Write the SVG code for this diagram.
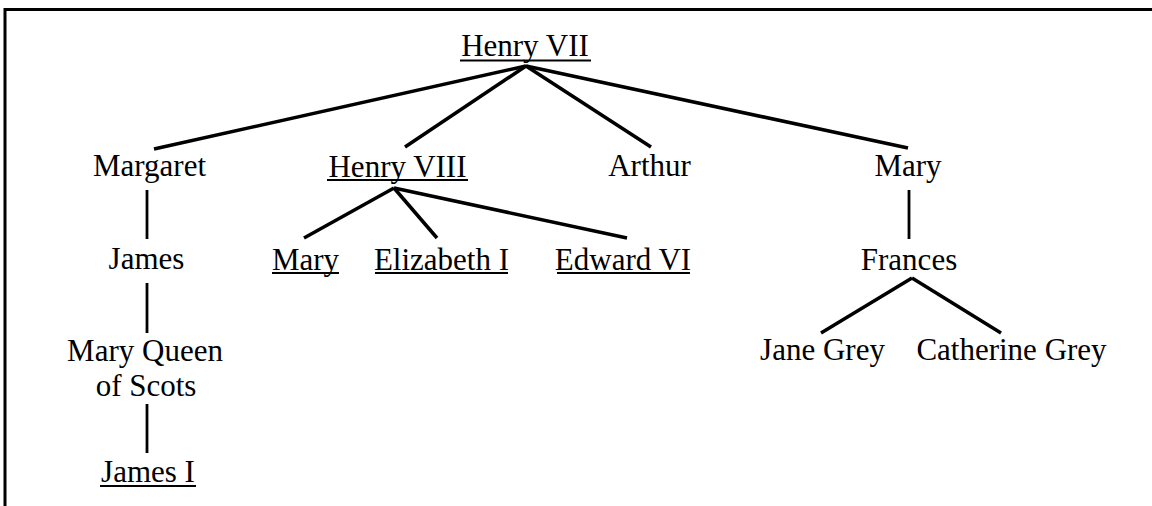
<svg xmlns="http://www.w3.org/2000/svg" width="1152" height="506" viewBox="0 0 1152 506">
<style>
text{font-family:"Liberation Serif","Times New Roman",serif;font-size:31px;fill:#000;text-anchor:middle}
.c line{stroke:#000;stroke-width:3.5;stroke-linecap:butt}
.c line.v{stroke-width:2.8}
.u{stroke:#000;stroke-width:2}
</style>
<rect width="1152" height="506" fill="#fff"/>
<path d="M5 506 V9.5 H1152" fill="none" stroke="#000" stroke-width="3"/>
<g class="c" id="connectors">
<line x1="526" y1="66" x2="154" y2="149"/>
<line x1="526" y1="66" x2="405" y2="147"/>
<line x1="526" y1="66" x2="651" y2="147"/>
<line x1="526" y1="66" x2="908" y2="148"/>
<line class="v" x1="147" y1="190" x2="147" y2="239"/>
<line class="v" x1="147" y1="283" x2="147" y2="333"/>
<line class="v" x1="147" y1="404" x2="147" y2="453"/>
<line x1="394" y1="188" x2="304" y2="238"/>
<line x1="394" y1="188" x2="437" y2="238"/>
<line x1="394" y1="188" x2="627" y2="238"/>
<line class="v" x1="909" y1="190" x2="909" y2="239"/>
<line x1="912" y1="278" x2="821" y2="333"/>
<line x1="912" y1="278" x2="1001" y2="333"/>
</g>
<g id="henry7"><text x="525" y="56">Henry VII</text><line class="u" x1="460" y1="60.5" x2="591" y2="60.5"/></g>
<g id="margaret"><text x="149.5" y="176">Margaret</text></g>
<g id="henry8"><text x="397.5" y="176.5">Henry VIII</text><line class="u" x1="327" y1="180" x2="468" y2="180"/></g>
<g id="arthur"><text x="649.5" y="176">Arthur</text></g>
<g id="mary2"><text x="908" y="176">Mary</text></g>
<g id="james"><text x="146.5" y="269">James</text></g>
<g id="mary1"><text x="305.5" y="269.5">Mary</text><line class="u" x1="272" y1="273" x2="339" y2="273"/></g>
<g id="elizabeth"><text x="441.5" y="269.5">Elizabeth I</text><line class="u" x1="375" y1="273" x2="508" y2="273"/></g>
<g id="edward"><text x="623" y="269.5">Edward VI</text><line class="u" x1="557" y1="273" x2="690" y2="273"/></g>
<g id="frances"><text x="909" y="270">Frances</text></g>
<g id="maryqs"><text x="145" y="361">Mary Queen</text><text x="146" y="395.5">of Scots</text></g>
<g id="jane"><text x="822.5" y="359.5">Jane Grey</text></g>
<g id="catherine"><text x="1011.5" y="359.5">Catherine Grey</text></g>
<g id="james1"><text x="148" y="482">James I</text><line class="u" x1="100" y1="486" x2="196" y2="486"/></g>
</svg>
